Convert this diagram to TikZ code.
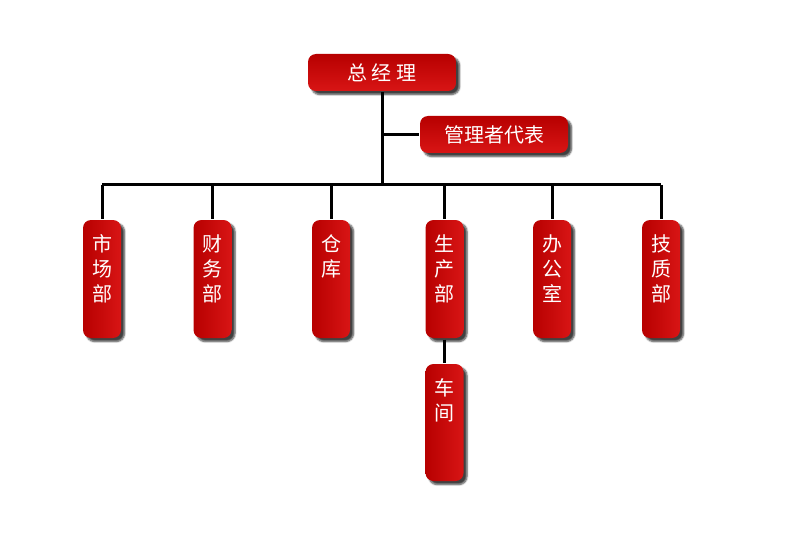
\documentclass[tikz,border=0pt]{standalone}
\usepackage{fontspec}
\newfontfamily\cjk{Noto Sans CJK SC}
\usetikzlibrary{shadows.blur}
\definecolor{reddark}{HTML}{B70000}
\definecolor{redlight}{HTML}{D81515}
\begin{document}
\begin{tikzpicture}[x=1pt,y=-1pt,line width=3pt]
	\tikzstyle{every node}+=[inner sep=0pt,font=\cjk\fontsize{20}{25}\selectfont,text=white]
	\tikzstyle{boss}=[rectangle,rounded corners=8pt,minimum width=148pt,minimum height=37pt,top color=reddark,bottom color=redlight,blur shadow={shadow xshift=3.5pt,shadow yshift=-3.5pt,shadow blur steps=6,shadow opacity=75}]
	\tikzstyle{dept}=[rectangle,rounded corners=8pt,minimum width=38pt,minimum height=118pt,left color=reddark,right color=redlight,blur shadow={shadow xshift=3.5pt,shadow yshift=-3.5pt,shadow blur steps=6,shadow opacity=75}]
	\tikzstyle{deptname}=[anchor=north,yshift=-15pt,align=center]
	\useasboundingbox (0,0) rectangle (800,548);
	\node [boss] (gm) at (382,72.5) {总 经 理};
	\node [boss] (rep) at (494,134.5) {管理者代表};
	\coordinate (bar) at (382,185);
	\node [dept,label={[deptname]north:市\\场\\部}] (mkt) at (102,279) {};
	\node [dept,label={[deptname]north:财\\务\\部}] (fin) at (212.5,279) {};
	\node [dept,label={[deptname]north:仓\\库}] (store) at (331,279) {};
	\node [dept,label={[deptname]north:生\\产\\部}] (prod) at (444.5,279) {};
	\node [dept,label={[deptname]north:办\\公\\室}] (office) at (552,279) {};
	\node [dept,label={[deptname]north:技\\质\\部}] (tech) at (661,279) {};
	\node [dept,minimum height=117pt,label={[deptname]north:车\\间}] (shop) at (444.5,422.5) {};
	\draw (gm.south) -- (bar);
	\draw (gm.south |- rep) -- (rep.west);
	\draw (bar -| mkt) -- (bar -| tech);
	\foreach \d in {mkt,fin,store,prod,office,tech}
		\draw (bar -| \d) -- (\d.north);
	\draw (prod.south) -- (shop.north);
\end{tikzpicture}
\end{document}
